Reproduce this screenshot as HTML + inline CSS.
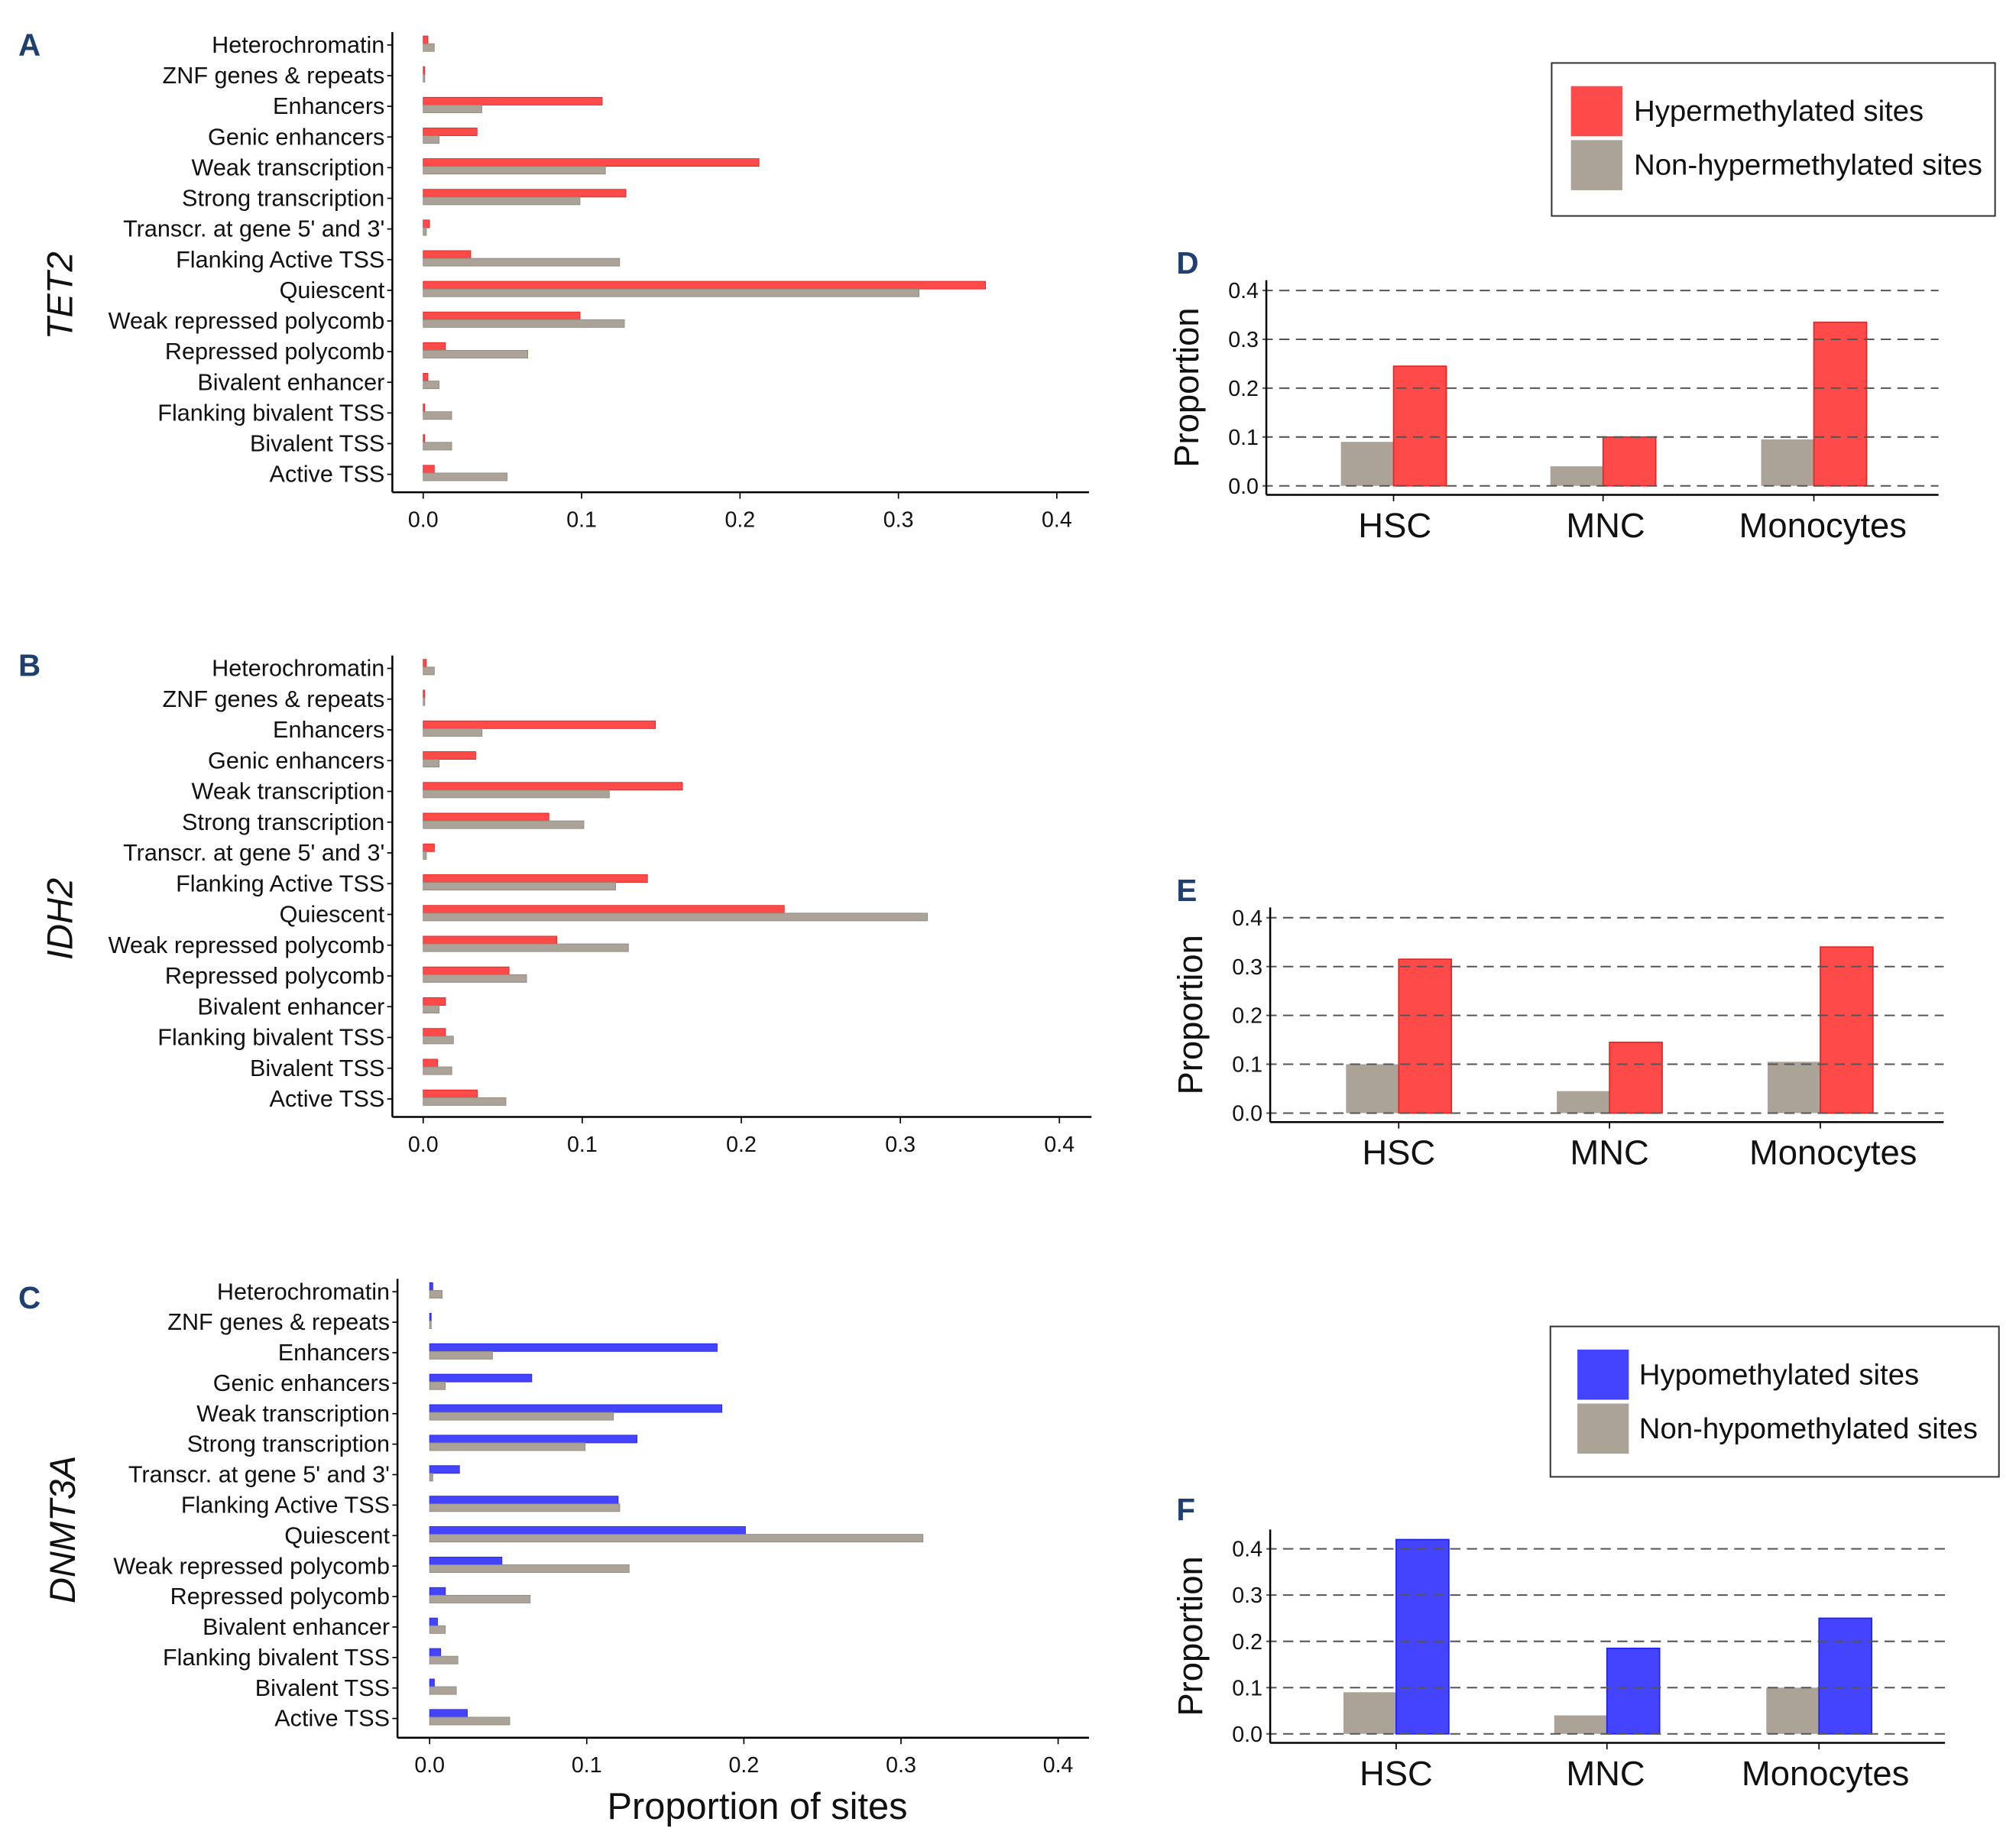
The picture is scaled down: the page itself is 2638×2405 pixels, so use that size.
<!DOCTYPE html>
<html><head><meta charset="utf-8"><style>
html,body{margin:0;padding:0;background:#fff}
svg{display:block}
text{font-family:"Liberation Sans",sans-serif;fill:#111}
</style></head><body>
<svg id="fig" width="2638" height="2405" viewBox="0 0 1568 1430" xmlns="http://www.w3.org/2000/svg"></svg>
<script>
const categories=["Heterochromatin","ZNF genes & repeats","Enhancers","Genic enhancers","Weak transcription","Strong transcription","Transcr. at gene 5' and 3'","Flanking Active TSS","Quiescent","Weak repressed polycomb","Repressed polycomb","Bivalent enhancer","Flanking bivalent TSS","Bivalent TSS","Active TSS"];
const tet2Hyper=[0.003,0.001,0.113,0.034,0.212,0.128,0.004,0.030,0.355,0.099,0.014,0.003,0.001,0.001,0.007];
const tet2Non=[0.007,0.001,0.037,0.010,0.115,0.099,0.002,0.124,0.313,0.127,0.066,0.010,0.018,0.018,0.053];
const idh2Hyper=[0.002,0.001,0.146,0.033,0.163,0.079,0.007,0.141,0.227,0.084,0.054,0.014,0.014,0.009,0.034];
const idh2Non=[0.007,0.001,0.037,0.010,0.117,0.101,0.002,0.121,0.317,0.129,0.065,0.010,0.019,0.018,0.052];
const dnmtHypo=[0.002,0.001,0.183,0.065,0.186,0.132,0.019,0.120,0.201,0.046,0.010,0.005,0.007,0.003,0.024];
const dnmtNon=[0.008,0.001,0.040,0.010,0.117,0.099,0.002,0.121,0.314,0.127,0.064,0.010,0.018,0.017,0.051];
const xTicks=[0,0.1,0.2,0.3,0.4];
const xTickLabels=["0.0","0.1","0.2","0.3","0.4"];
const groups=["HSC","MNC","Monocytes"];
const dNon=[0.09,0.04,0.095];
const dHyper=[0.245,0.10,0.335];
const eNon=[0.10,0.045,0.105];
const eHyper=[0.315,0.145,0.34];
const fNon=[0.09,0.04,0.10];
const fHypo=[0.42,0.185,0.25];
const yTicks=[0,0.1,0.2,0.3,0.4];
const yTickLabels=["0.0","0.1","0.2","0.3","0.4"];

const NS="http://www.w3.org/2000/svg";
const svg=document.getElementById('fig');
function el(tag,attrs,parent){const e=document.createElementNS(NS,tag);for(const k in attrs)e.setAttribute(k,attrs[k]);(parent||svg).appendChild(e);return e;}
function txt(s,attrs,parent){const e=el('text',attrs,parent);e.textContent=s;return e;}
const RED="#ff4a4a",GREY="#aca398",BLUE="#4444ff";

function hpanel(o){
  const g=el('g',{});
  
  
  const xs=v=>o.x0+v*(o.x4-o.x0)/0.4;
  const ys=i=>o.y0+i*(o.y1-o.y0)/(categories.length-1);
  const ax=el('line',{x1:o.ax,y1:o.top,x2:o.ax,y2:o.base,stroke:'#000','stroke-width':1.5},g);
  
  const bx=el('line',{x1:o.ax,y1:o.base,x2:o.right,y2:o.base,stroke:'#000','stroke-width':1.5},g);
  
  categories.forEach((c,i)=>{
    const y=ys(i);
    el('line',{x1:o.ax-4,y1:y,x2:o.ax,y2:y,stroke:'#000','stroke-width':1},g);
    const t=txt(c,{x:o.ax-6,y:y+6,'text-anchor':'end','font-size':18.2},g);
    
    const r1=el('rect',{x:xs(0),y:y-7,width:Math.max(0.8,xs(o.a[i])-xs(0)),height:6,fill:o.col,stroke:o.col==RED?'#e02020':'#2222dd','stroke-width':0.5},g);
    
    const r2=el('rect',{x:xs(0),y:y-1,width:Math.max(0.8,xs(o.b[i])-xs(0)),height:6,fill:GREY,stroke:'#8f877d','stroke-width':0.5},g);
    
  });
  xTicks.forEach((v,i)=>{
    el('line',{x1:xs(v),y1:o.base,x2:xs(v),y2:o.base+5,stroke:'#000','stroke-width':1},g);
    const t=txt(xTickLabels[i],{x:xs(v),y:o.base+27,'text-anchor':'middle','font-size':17},g);
    
  });
  const gl=txt(o.gene,{x:0,y:0,'font-size':28,'font-style':'italic','text-anchor':'middle',transform:`translate(${o.gx},${o.gy}) rotate(-90)`},g);
  
}
hpanel({name:'panel-a',ax:305,top:25,base:383,right:847,x0:329,x4:822,y0:35,y1:369,a:tet2Hyper,b:tet2Non,col:RED,aName:'hyper',gene:'TET2',gx:56,gy:230});
hpanel({name:'panel-b',ax:305,top:510,base:869,right:849,x0:329,x4:824,y0:520,y1:855,a:idh2Hyper,b:idh2Non,col:RED,aName:'hyper',gene:'IDH2',gx:56,gy:715});
hpanel({name:'panel-c',ax:309,top:995,base:1352,right:847,x0:334,x4:823,y0:1005,y1:1337,a:dnmtHypo,b:dnmtNon,col:BLUE,aName:'hypo',gene:'DNMT3A',gx:58,gy:1190});
const xt=txt('Proportion of sites',{x:589,y:1415,'text-anchor':'middle','font-size':29});


function vpanel(o){
  const g=el('g',{});
  
  
  const ys=v=>o.y0-v*(o.y0-o.y4)/0.4;
  groups.forEach((c,i)=>{
    const gx=o.gx[i];
    const r1=el('rect',{x:gx-41,y:ys(o.b[i]),width:41,height:ys(0)-ys(o.b[i]),fill:GREY},g);
    
    const r2=el('rect',{x:gx,y:ys(o.a[i]),width:41,height:ys(0)-ys(o.a[i]),fill:o.col,stroke:o.col==RED?'#ee2020':'#2020ee','stroke-width':1},g);
    
    el('line',{x1:gx,y1:o.base,x2:gx,y2:o.base+5,stroke:'#000','stroke-width':1},g);
    const t=txt(c,{x:gx+o.lo[i],y:o.base+33,'text-anchor':'middle','font-size':27},g);
    
  });
  yTicks.forEach((v,i)=>{
    const l=el('line',{x1:o.ax-3,y1:ys(v),x2:o.right,y2:ys(v),stroke:'#555','stroke-width':1.2,'stroke-dasharray':'8,5'},g);
    
    const t=txt(yTickLabels[i],{x:o.ax-6,y:ys(v)+6,'text-anchor':'end','font-size':17},g);
    
  });
  el('line',{x1:o.ax,y1:o.top,x2:o.ax,y2:o.base,stroke:'#000','stroke-width':1.5},g);
  el('line',{x1:o.ax,y1:o.base,x2:o.right,y2:o.base,stroke:'#000','stroke-width':1.5},g);
  const yt=txt('Proportion',{x:0,y:0,'font-size':27,'text-anchor':'middle',transform:`translate(${o.ax-53},${(o.top+o.base)/2}) rotate(-90)`},g);
  
}
vpanel({name:'panel-d',ax:985,top:218,base:385,right:1508,y0:378,y4:226,gx:[1084,1247,1411],lo:[1,2,7],a:dHyper,b:dNon,col:RED,aName:'hyper'});
vpanel({name:'panel-e',ax:988,top:706,base:873,right:1512,y0:866,y4:714,gx:[1088,1252,1416],lo:[0,0,10],a:eHyper,b:eNon,col:RED,aName:'hyper'});
vpanel({name:'panel-f',ax:988,top:1190,base:1356,right:1513,y0:1349,y4:1205,gx:[1086,1250,1415],lo:[0,-1,5],a:fHypo,b:fNon,col:BLUE,aName:'hypo'});

function legend(name,x,y,w,h,col,l1,l2,sx,tx){
  const g=el('g',{});
  
  
  el('rect',{x:x,y:y,width:w,height:h,fill:'#fff',stroke:'#333','stroke-width':1.2},g);
  el('rect',{x:sx,y:y+18,width:40,height:39,fill:col},g);
  el('rect',{x:sx,y:y+60,width:40,height:39,fill:GREY},g);
  const a=txt(l1,{x:tx,y:y+45,'font-size':22.8},g);
  
  const b=txt(l2,{x:tx,y:y+87,'font-size':22.8},g);
  
}
legend('legend-hyper',1207,49,345,119,RED,'Hypermethylated sites','Non-hypermethylated sites',1222,1271);
legend('legend-hypo',1206,1032,349,117,BLUE,'Hypomethylated sites','Non-hypomethylated sites',1227,1275);

[['A',14,43],['B',14,526],['C',14,1018],['D',915,213],['E',915,701],['F',915,1183]].forEach(p=>{
  const t=txt(p[0],{x:p[1],y:p[2],'font-size':24,'font-weight':'bold',fill:'#1f3f6e'});
  t.style.fill='#1f3f6e';
  
  
});
</script>
</body></html>
